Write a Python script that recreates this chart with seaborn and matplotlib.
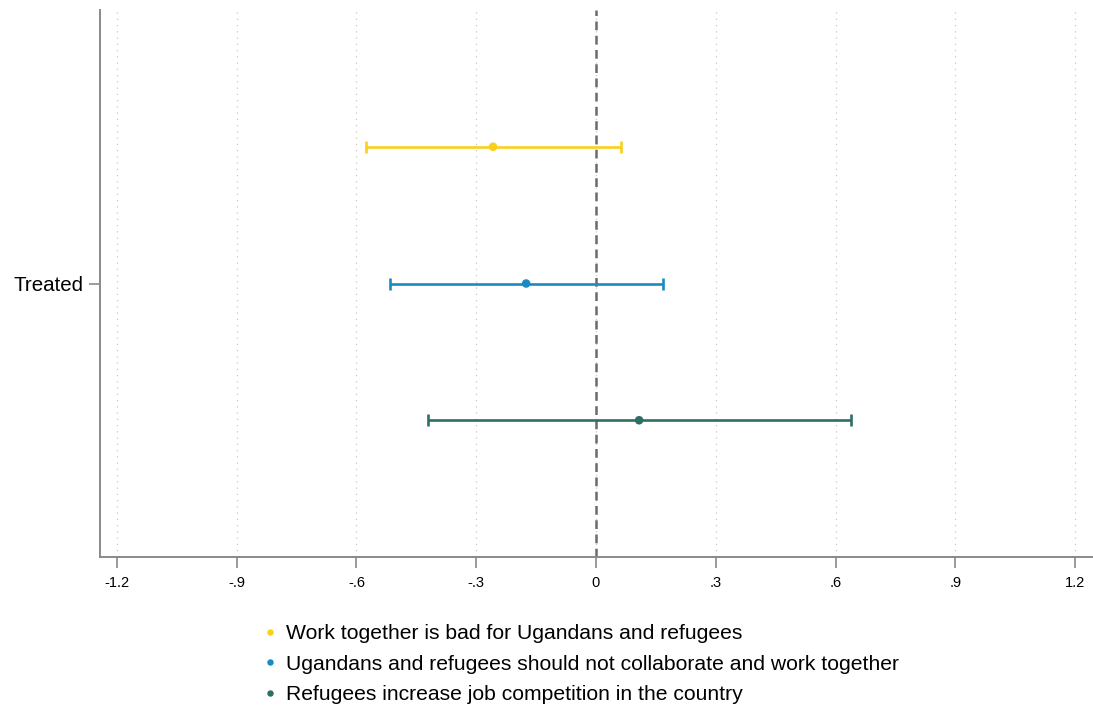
import numpy as np
import pandas as pd
import matplotlib
matplotlib.use("Agg")
import matplotlib.pyplot as plt
import seaborn as sns

# Coefficient estimates and 95% confidence bounds for the "Treated" term
outcomes = [
    "Work together is bad for Ugandans and refugees",
    "Ugandans and refugees should not collaborate and work together",
    "Refugees increase job competition in the country",
]
estimates = [-0.258, -0.175, 0.108]
ci_low = [-0.576, -0.516, -0.421]
ci_high = [0.063, 0.168, 0.639]
colors = ["#F9D01A", "#1A8BC0", "#2E6E66"]
term_labels = ["Treated"]
xticks = [-1.2, -0.9, -0.6, -0.3, 0, 0.3, 0.6, 0.9, 1.2]
xtick_labels = ["-1.2", "-.9", "-.6", "-.3", "0", ".3", ".6", ".9", "1.2"]

# Vertical offsets of each outcome around the term's row
offsets = [-0.25, 0.0, 0.25]

df = pd.DataFrame({
    "outcome": outcomes,
    "estimate": estimates,
    "lo": ci_low,
    "hi": ci_high,
    "ypos": [1 + o for o in offsets],
})

sns.set_theme(style="white")
plt.rcParams["font.family"] = ["Liberation Sans", "DejaVu Sans"]
plt.rcParams["text.color"] = "black"

fig = plt.figure(figsize=(10.93, 7.13), dpi=100)
ax = fig.add_axes([100 / 1093, 1 - 557 / 713, 992 / 1093, 547 / 713])

# Dotted vertical gridlines at each tick
for xv in xticks:
    ax.axvline(xv, color="#C8C8C8", lw=0.9, ls=(0, (1, 4)), zorder=0)

# Reference line at zero
ax.axvline(0, color="#6B6B6B", lw=1.8, ls=(0, (3.5, 2.2)), zorder=1)

# Confidence intervals with caps
for _, row in df.iterrows():
    c = colors[outcomes.index(row["outcome"])]
    ax.errorbar(
        x=row["estimate"], y=row["ypos"],
        xerr=[[row["estimate"] - row["lo"]], [row["hi"] - row["estimate"]]],
        fmt="none", ecolor=c, elinewidth=1.9, capsize=4.6, capthick=1.9, zorder=2,
    )

# Point estimates
sns.scatterplot(
    data=df, x="estimate", y="ypos", hue="outcome", hue_order=outcomes,
    palette=colors, s=38, edgecolor="none", ax=ax, zorder=3, legend=True,
)

ax.set_xlim(-1.2425, 1.2425)
ax.set_ylim(1.5, 0.5)
ax.set_xticks(xticks)
ax.set_xticklabels(xtick_labels, fontsize=10.5, color="black")
ax.set_yticks([1])
ax.set_yticklabels(term_labels, fontsize=14.8, color="black")
ax.set_xlabel("")
ax.set_ylabel("")

for side in ["top", "right"]:
    ax.spines[side].set_visible(False)
for side in ["left", "bottom"]:
    ax.spines[side].set_color("#8A8A8A")
    ax.spines[side].set_linewidth(1.4)

ax.tick_params(axis="x", which="major", direction="out", length=8, width=1.2,
               color="#8A8A8A", pad=6, bottom=True)
ax.tick_params(axis="y", which="major", direction="out", length=8, width=1.2,
               color="#8A8A8A", pad=4, left=True)

handles, labels = ax.get_legend_handles_labels()
leg = ax.legend(
    handles, labels, loc="upper center", bbox_to_anchor=(0.483, -0.107),
    frameon=False, fontsize=15.2, handletextpad=0.25, labelspacing=0.55,
    markerscale=0.75, handlelength=1.0, borderaxespad=0,
)
for t in leg.get_texts():
    t.set_color("black")

fig.savefig("out.png", dpi=100)
